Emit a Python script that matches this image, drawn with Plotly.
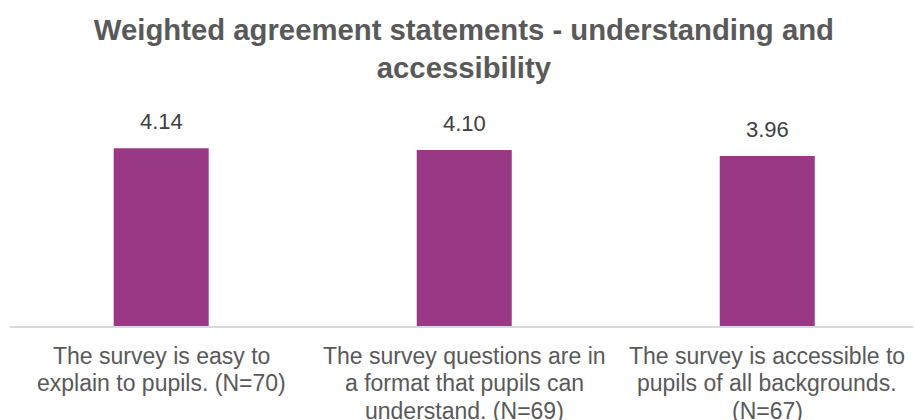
import plotly.graph_objects as go

categories = [
    "The survey is easy to<br>explain to pupils. (N=70)",
    "The survey questions are in<br>a format that pupils can<br>understand. (N=69)",
    "The survey is accessible to<br>pupils of all backgrounds.<br>(N=67)",
]
values = [4.14, 4.10, 3.96]
value_labels = ["4.14", "4.10", "3.96"]
title_text = "Weighted agreement statements - understanding and<br>accessibility"

FONT = "Liberation Sans, Arial, sans-serif"
xs = list(range(len(categories)))

fig = go.Figure()
fig.add_trace(go.Bar(
    x=xs, y=values, width=0.3135,
    marker=dict(color="#993885", line=dict(width=0)),
    hoverinfo="skip",
))

annotations = []
for x, v, t in zip(xs, values, value_labels):
    annotations.append(dict(
        x=x, y=v, xref="x", yref="y", text=t, showarrow=False,
        yanchor="bottom", yshift=13, borderpad=0,
        font=dict(family=FONT, size=22, color="#404040"),
    ))
line_gap = 27.3
for x, lab in zip(xs, categories):
    for i, part in enumerate(lab.split("<br>")):
        annotations.append(dict(
            x=x, y=0, xref="x", yref="paper", text=part, showarrow=False,
            yanchor="top", yshift=-16 - i * line_gap, borderpad=0,
            font=dict(family=FONT, size=23, color="#595959"),
        ))

fig.update_layout(
    width=915, height=420,
    margin=dict(l=10, r=2, t=120, b=94),
    paper_bgcolor="white", plot_bgcolor="white",
    showlegend=False,
    title=dict(
        text=title_text, x=0.507, xanchor="center", y=1 - 40 / 420, yanchor="top",
        font=dict(family=FONT, size=29.3, color="#595959", weight="bold"),
    ),
    xaxis=dict(
        range=[-0.499, 2.481], showticklabels=False, ticks="",
        showgrid=False, zeroline=False,
        showline=True, linecolor="#d9d9d9", linewidth=1.5,
    ),
    yaxis=dict(range=[0, 4.8], visible=False, showgrid=False, zeroline=False),
    annotations=annotations,
)

fig.write_html("out.html")
